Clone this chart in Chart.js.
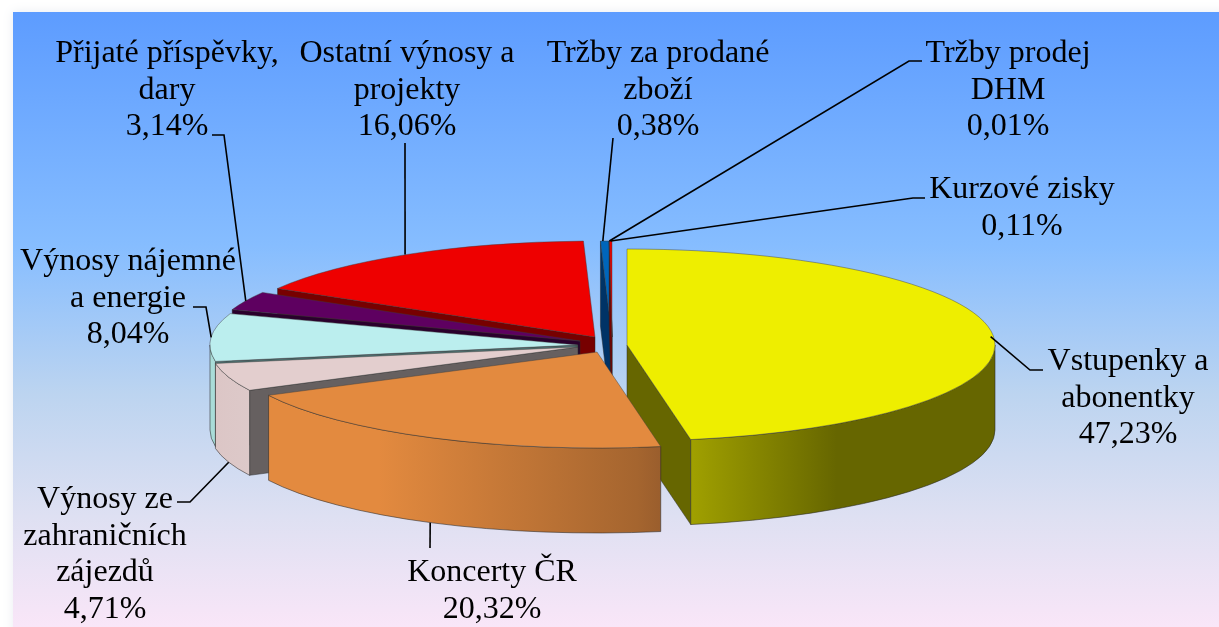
<!DOCTYPE html>
<html lang="cs"><head><meta charset="utf-8">
<style>html,body{margin:0;padding:0;background:#fff;overflow:hidden}canvas{display:block}</style>
<script src="https://cdn.jsdelivr.net/npm/chart.js@4/dist/chart.umd.js"></script>
</head><body><canvas id="c" width="1219" height="627"></canvas>
<script>
const categories = ["Vstupenky a abonentky","Koncerty ČR","Výnosy ze zahraničních zájezdů","Výnosy nájemné a energie","Přijaté příspěvky, dary","Ostatní výnosy a projekty","Tržby za prodané zboží","Tržby prodej DHM","Kurzové zisky"];
const shares = [47.23,20.32,4.71,8.04,3.14,16.06,0.38,0.01,0.11];
const shareTexts = ["47,23%","20,32%","4,71%","8,04%","3,14%","16,06%","0,38%","0,01%","0,11%"];
const labelLines = [["Vstupenky a","abonentky"],["Koncerty ČR"],["Výnosy ze","zahraničních","zájezdů"],["Výnosy nájemné","a energie"],["Přijaté příspěvky,","dary"],["Ostatní výnosy a","projekty"],["Tržby za prodané","zboží"],["Tržby prodej","DHM"],["Kurzové zisky"]];
const topColors = ["#EEEE00","#E38A3F","#E3CECE","#BBEEEE","#5E0060","#EE0000","#0066BB","#EE0000","#EE0000"];
const sideColors = ["#666600","#A5652F","#666060","#4E6E6E","#2A002C","#770000","#003366","#770000","#770000"];
const wallStops = [
 [[0,"#A0A000"],[.48,"#666600"],[1,"#666600"]],
 [[0,"#E38A3F"],[.28,"#E38A3F"],[.94,"#A5652F"],[1,"#9A5E2D"]],
 [[0,"#DCC6C6"],[1,"#DDC9C9"]],
 [[0,"#A9DCD8"],[1,"#A9DCD8"]],
 [[0,"#2A002C"],[1,"#2A002C"]],
 [[0,"#770000"],[1,"#770000"]],
 [[0,"#003366"],[1,"#003366"]],
 [[0,"#770000"],[1,"#770000"]],
 [[0,"#770000"],[1,"#770000"]]
];
// presentation geometry of the exploded 3-D pie
const RADIUS=368, TILT=96/368, DEPTH=85, CX=604, CY=344;
const explodeX=[23,-7,-26,-26,-24,-9,8,8,8];
const explodeY=[1,8,3,1,-3,-7,-7,-7,-7];
const paintOrder=[6,7,8,5,4,3,2,0,1];
const FONT='32px "Liberation Serif"', LINE=36.7;
// text centre x, first baseline y, leader elbows, whether leader starts on the wall's lower rim, start nudge
const labelPos=[
 {x:1128,y:370,elbows:[[1030,370],[1043,370]],low:0,sx:-3},
 {x:492,y:581,elbows:[[430,548]],low:1,sx:-2},
 {x:105,y:508,elbows:[[190,502],[177,502]],low:1,sx:0},
 {x:128,y:270,elbows:[[206,307],[193,307]],low:0,sx:0},
 {x:167,y:62,elbows:[[224,135],[212,135]],low:0,sx:0},
 {x:407,y:62,elbows:[[405,143]],low:0,sx:-2},
 {x:658,y:62,elbows:[[613,138]],low:0,sx:-2},
 {x:1008,y:62,elbows:[[909,61],[922,61]],low:0,sx:0},
 {x:1022,y:198,elbows:[[913,198],[925,198]],low:0,sx:0}
];
const bg={id:'bg',beforeDraw(chart){
 const c=chart.ctx;c.save();
 c.fillStyle='#fff';c.fillRect(0,0,1219,627);
 c.shadowColor='rgba(120,140,170,.16)';c.shadowBlur=10;
 const g=c.createLinearGradient(0,12,0,627);
 g.addColorStop(0,'#5D9CFF');g.addColorStop(.38,'#86BDFF');g.addColorStop(.62,'#BCD4F0');g.addColorStop(.82,'#DEE0F2');g.addColorStop(1,'#F9E6F8');
 c.fillStyle=g;c.fillRect(13,12,1300,700);c.restore();
}};
function apex(i){return [CX+explodeX[i],CY+explodeY[i]];}
function pt(i,t,d){const a=apex(i);return [a[0]+RADIUS*Math.cos(t),a[1]+RADIUS*TILT*Math.sin(t)+(d||0)];}
function radial(c,i,t){
 const a=apex(i),p=pt(i,t);c.beginPath();c.moveTo(a[0],a[1]);c.lineTo(p[0],p[1]);c.lineTo(p[0],p[1]+DEPTH);c.lineTo(a[0],a[1]+DEPTH);c.closePath();
 c.fillStyle=sideColors[i];c.fill();c.strokeStyle='rgba(40,40,40,.6)';c.lineWidth=.8;c.stroke();
}
const pie3d={id:'pie3d',beforeDatasetsDraw(chart){
 const c=chart.ctx,arcs=chart.getDatasetMeta(0).data;
 paintOrder.forEach(i=>{
  const arc=arcs[i];let t0=arc.startAngle,t1=arc.endAngle;const a=apex(i);
  c.save();
  if(Math.cos(t0)<0)radial(c,i,t0);
  if(Math.cos(t1)>0)radial(c,i,t1);
  // outer wall: only the arc section facing the viewer (canvas angles 0..PI)
  const TAU=2*Math.PI;let s=t0%TAU;if(s>Math.PI)s-=TAU;if(s<-Math.PI)s+=TAU;
  const e=s+(t1-t0),ta=Math.max(s,0),tb=Math.min(e,Math.PI);
  if(tb>ta){
   const x0=pt(i,ta)[0],x1=pt(i,tb)[0];
   const w=c.createLinearGradient(Math.min(x0,x1),0,Math.max(x0,x1),0);
   wallStops[i].forEach(st=>w.addColorStop(st[0],st[1]));
   c.beginPath();c.ellipse(a[0],a[1],RADIUS,RADIUS*TILT,0,ta,tb);
   c.ellipse(a[0],a[1]+DEPTH,RADIUS,RADIUS*TILT,0,tb,ta,true);c.closePath();
   c.fillStyle=w;c.fill();c.strokeStyle='rgba(40,40,40,.7)';c.lineWidth=.8;c.stroke();
  }
  c.restore();
  // top face: the library's own arc element, squashed into perspective
  c.save();c.translate(a[0],a[1]);c.scale(1,TILT);c.translate(-arc.x,-arc.y);arc.draw(c);c.restore();
  c.save();c.beginPath();c.moveTo(a[0],a[1]);c.ellipse(a[0],a[1],RADIUS,RADIUS*TILT,0,t0,t1);c.closePath();
  c.strokeStyle='rgba(60,60,60,.55)';c.lineWidth=.8;c.stroke();c.restore();
 });
 return false;
},afterDraw(chart){
 const c=chart.ctx,arcs=chart.getDatasetMeta(0).data;c.save();
 c.textAlign='center';c.textBaseline='alphabetic';c.font=FONT;c.fillStyle='#000';
 labelPos.forEach((p,i)=>{
  const arc=arcs[i],mid=(arc.startAngle+arc.endAngle)/2;
  const s=pt(i,mid,p.low?DEPTH:0);
  c.beginPath();c.moveTo(s[0]+p.sx,s[1]);p.elbows.forEach(e=>c.lineTo(e[0],e[1]));
  c.strokeStyle='#000';c.lineWidth=1.6;c.stroke();
  labelLines[i].concat(shareTexts[i]).forEach((t,n)=>c.fillText(t,p.x,p.y+n*LINE));
 });
 c.restore();
}};
new Chart(document.getElementById('c'),{type:'pie',
 data:{labels:categories,datasets:[{data:shares,backgroundColor:topColors,borderWidth:0}]},
 options:{responsive:false,animation:false,radius:RADIUS,events:[],plugins:{legend:{display:false},tooltip:{enabled:false}}},
 plugins:[bg,pie3d]});
</script></body></html>
